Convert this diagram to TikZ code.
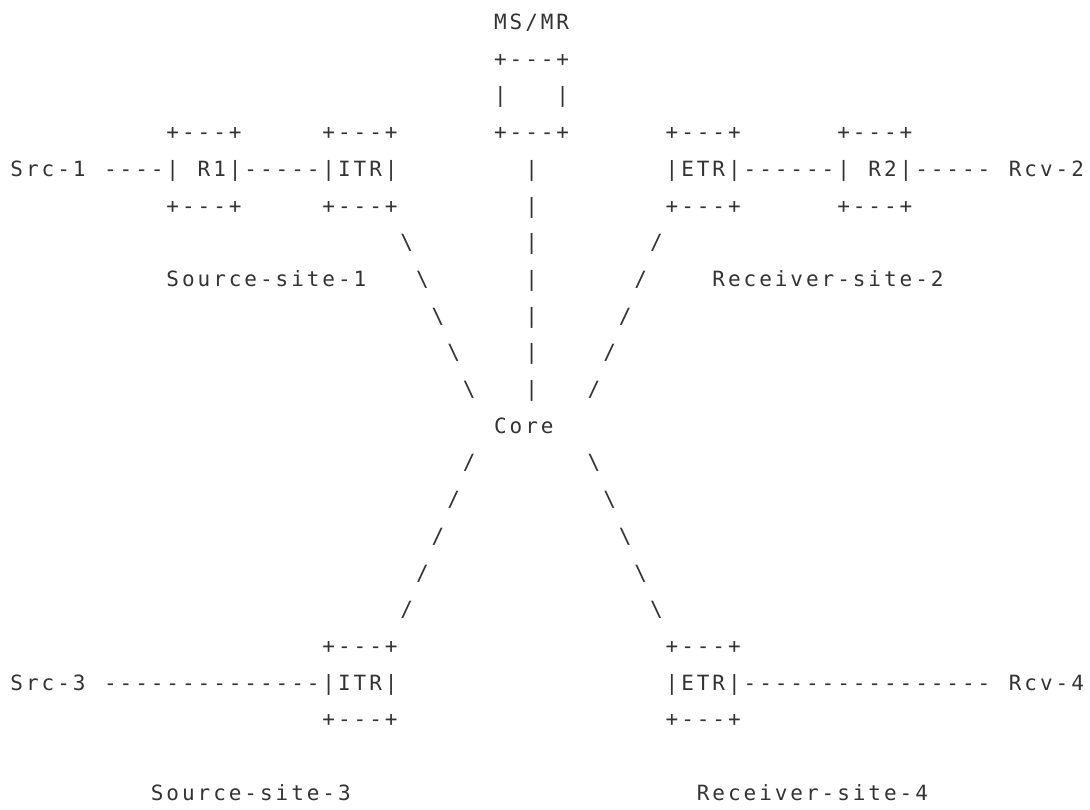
\documentclass[tikz,border=0pt]{standalone}
\usepackage{fontspec}
\newfontfamily\ascfont{DejaVu Sans Mono}
\definecolor{ink}{HTML}{333333}
% set every character in a fixed-width cell
\def\gridtxt#1{\gridstep#1\relax}
\def\gridstep#1{\ifx#1\relax\else\makebox[15.6pt][c]{#1}\expandafter\gridstep\fi}
\newcommand\bs{\textbackslash}
\tikzset{
  txt/.style={anchor=base west, inner sep=0pt, outer sep=0pt,
    font=\ascfont\fontsize{21}{21}\selectfont, text=ink}
}
\newcommand\cell[4]{\node[txt] (#1) at ({9+15.6*#2},{29.5+36.7*#3}) {\gridtxt{#4}};}
\begin{document}
\begin{tikzpicture}[x=1pt,y=-1pt]
\useasboundingbox[fill=white] (0,0) rectangle (1090,809);
% MS/MR
\cell{msmr}{31}{0}{MS/MR}
\cell{mstop}{31}{1}{+---+}
\cell{msl}{31}{2}{|}
\cell{msr}{35}{2}{|}
% row 3 box tops
\cell{rAt}{10}{3}{+---+}
\cell{itrAt}{20}{3}{+---+}
\cell{msbot}{31}{3}{+---+}
\cell{etrBt}{42}{3}{+---+}
\cell{rBt}{53}{3}{+---+}
% row 4
\cell{src1}{0}{4}{Src-1}
\cell{lnA}{6}{4}{----}
\cell{rA}{10}{4}{|~R1|}
\cell{lnB}{15}{4}{-----}
\cell{itrA}{20}{4}{|ITR|}
\cell{v4}{33}{4}{|}
\cell{etrB}{42}{4}{|ETR|}
\cell{lnC}{47}{4}{------}
\cell{rB}{53}{4}{|~R2|}
\cell{lnD}{58}{4}{-----}
\cell{rcv2}{64}{4}{Rcv-2}
% row 5 box bottoms
\cell{rAb}{10}{5}{+---+}
\cell{itrAb}{20}{5}{+---+}
\cell{v5}{33}{5}{|}
\cell{etrBb}{42}{5}{+---+}
\cell{rBb}{53}{5}{+---+}
% rows 6-10
\cell{d6}{25}{6}{\bs}
\cell{v6}{33}{6}{|}
\cell{s6}{41}{6}{/}
\cell{site1}{10}{7}{Source-site-1}
\cell{d7}{26}{7}{\bs}
\cell{v7}{33}{7}{|}
\cell{s7}{40}{7}{/}
\cell{site2}{45}{7}{Receiver-site-2}
\cell{d8}{27}{8}{\bs}
\cell{v8}{33}{8}{|}
\cell{s8}{39}{8}{/}
\cell{d9}{28}{9}{\bs}
\cell{v9}{33}{9}{|}
\cell{s9}{38}{9}{/}
\cell{d10}{29}{10}{\bs}
\cell{v10}{33}{10}{|}
\cell{s10}{37}{10}{/}
% core
\cell{core}{31}{11}{Core}
% rows 12-16
\cell{s12}{29}{12}{/}
\cell{d12}{37}{12}{\bs}
\cell{s13}{28}{13}{/}
\cell{d13}{38}{13}{\bs}
\cell{s14}{27}{14}{/}
\cell{d14}{39}{14}{\bs}
\cell{s15}{26}{15}{/}
\cell{d15}{40}{15}{\bs}
\cell{s16}{25}{16}{/}
\cell{d16}{41}{16}{\bs}
% lower boxes
\cell{itrCt}{20}{17}{+---+}
\cell{etrDt}{42}{17}{+---+}
\cell{src3}{0}{18}{Src-3}
\cell{lnE}{6}{18}{--------------}
\cell{itrC}{20}{18}{|ITR|}
\cell{etrD}{42}{18}{|ETR|}
\cell{lnF}{47}{18}{----------------}
\cell{rcv4}{64}{18}{Rcv-4}
\cell{itrCb}{20}{19}{+---+}
\cell{etrDb}{42}{19}{+---+}
% site labels
\cell{site3}{9}{21}{Source-site-3}
\cell{site4}{44}{21}{Receiver-site-4}
\end{tikzpicture}
\end{document}
